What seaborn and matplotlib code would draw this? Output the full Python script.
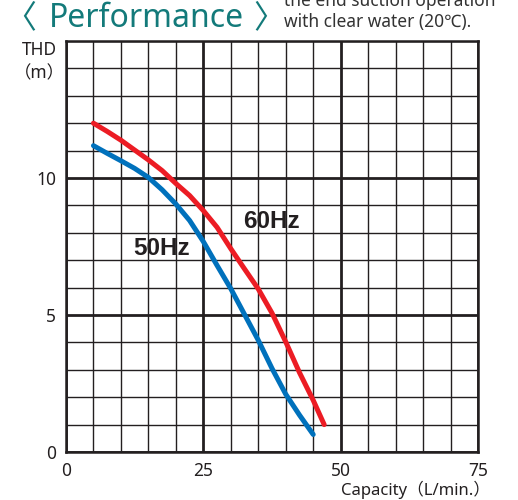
import pandas as pd
import matplotlib
matplotlib.use("Agg")
import matplotlib.pyplot as plt
from matplotlib.ticker import MultipleLocator, FixedLocator
import seaborn as sns

# values
cap_60 = [5, 7.5, 10, 12.5, 15, 17.5, 20, 22.5, 25, 27.5, 30, 32.5, 35, 37.5, 40, 42.5, 45, 47]
thd_60 = [12.0, 11.7, 11.38, 11.02, 10.66, 10.27, 9.8, 9.36, 8.81, 8.2, 7.42, 6.68,
          5.95, 5.07, 4.02, 2.9, 1.89, 1.0]
cap_50 = [5, 7.5, 10, 12.5, 15, 17.5, 20, 22.5, 25, 27.5, 30, 32.5, 35, 37.5, 40, 42.5, 45]
thd_50 = [11.18, 10.9, 10.63, 10.35, 10.02, 9.57, 9.05, 8.45, 7.68, 6.81, 5.96, 5.02,
          4.08, 3.05, 2.11, 1.35, 0.64]
x_ticks = [0, 25, 50, 75]
y_ticks = [0, 5, 10]

df = pd.concat([
    pd.DataFrame({"cap": cap_60, "thd": thd_60, "freq": "60Hz"}),
    pd.DataFrame({"cap": cap_50, "thd": thd_50, "freq": "50Hz"}),
])

sns.set_style("white")
plt.rcParams["font.family"] = ["Noto Sans", "Noto Sans CJK JP", "DejaVu Sans"]

ink = "#231f20"
fig = plt.figure(figsize=(5.18, 5.0), dpi=100)
ax = fig.add_axes([66 / 518, 48 / 500, 412 / 518, 411 / 500])

# grid: thin every 5 L/min and 1 m, thick at the majors
ax.xaxis.set_major_locator(FixedLocator(x_ticks))
ax.yaxis.set_major_locator(FixedLocator(y_ticks))
ax.xaxis.set_minor_locator(MultipleLocator(5))
ax.yaxis.set_minor_locator(MultipleLocator(1))
ax.grid(which="minor", color=ink, linewidth=1.0)
ax.grid(which="major", color=ink, linewidth=2.0)
ax.set_axisbelow(True)

sns.lineplot(data=df, x="cap", y="thd", hue="freq",
             palette={"60Hz": "#ec1c24", "50Hz": "#0071bc"},
             linewidth=3.6, legend=False, ax=ax, sort=False)
for ln in ax.lines:
    ln.set_solid_capstyle("round")
    ln.set_solid_joinstyle("round")

ax.set_xlim(0, 75)
ax.set_ylim(0, 15)
for s in ax.spines.values():
    s.set_visible(True)
    s.set_color(ink)
    s.set_linewidth(1.8)
ax.tick_params(which="both", length=0, labelsize=12.5, labelcolor=ink, pad=7)
ax.set_xlabel("")
ax.set_ylabel("")

ax.text(37.45, 8.43, "60Hz", fontsize=17.5, fontweight="bold", color="#231f20",
        ha="center", va="center", family=["Liberation Sans"])
ax.text(17.42, 7.44, "50Hz", fontsize=17.5, fontweight="bold", color="#231f20",
        ha="center", va="center", family=["Liberation Sans"])

fig.text(57 / 518, 1 - 50 / 500, "THD", fontsize=12.5, color=ink, ha="right", va="center")
fig.text(65 / 518, 1 - 73 / 500, "（m）", fontsize=12.5, color=ink, ha="right", va="center")
fig.text(490 / 518, 1 - 490 / 500, "Capacity（L/min.）", fontsize=12, color=ink,
         ha="right", va="center")

teal = "#137a7a"
fig.text(4 / 518, 1 - 27 / 500, "〈", fontsize=23, color=teal, ha="left", va="baseline")
fig.text(49 / 518, 1 - 27 / 500, "Performance", fontsize=23, color=teal,
         ha="left", va="baseline")
fig.text(253 / 518, 1 - 27 / 500, "〉", fontsize=23, color=teal, ha="left", va="baseline")
fig.text(284 / 518, 1 - 27 / 500, "the end suction operation\nwith clear water (20℃).",
         fontsize=12.5, color="#333333", ha="left", va="baseline", linespacing=1.2)

fig.savefig("out.png", dpi=100)
